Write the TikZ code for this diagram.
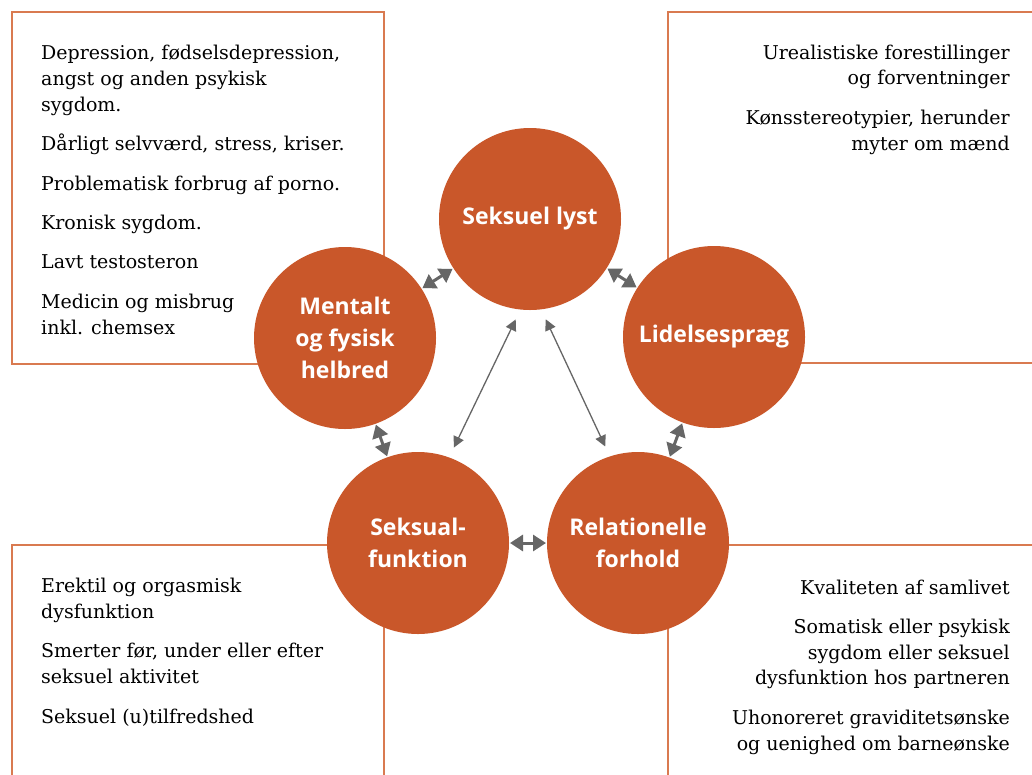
\documentclass[tikz,border=0pt]{standalone}
\usepackage{fontspec}
\setmainfont{DejaVu Serif}
\newfontfamily\circfont{Open Sans}
\usetikzlibrary{arrows.meta}
\definecolor{rust}{HTML}{C9572A}
\definecolor{framec}{HTML}{D97A50}
\definecolor{arrc}{HTML}{666666}
\begin{document}
\begin{tikzpicture}[x=1pt,y=-1pt,
  frameline/.style={draw=framec,line width=1.5pt},
  bubble/.style={circle,fill=rust,minimum size=182pt,inner sep=0pt,outer sep=0pt,
     text=white,align=center,font=\circfont\bfseries\fontsize{23}{32}\selectfont},
  bodytext/.style={inner sep=0pt,font=\fontsize{19}{25.7}\selectfont,text=black},
  shortarr/.style={draw=arrc,line width=3pt,{Triangle[length=13pt,width=16pt]}-{Triangle[length=13pt,width=16pt]},shorten <=1pt,shorten >=1pt},
  longarr/.style={draw=arrc,line width=1.3pt,{Triangle[length=11pt,width=11pt]}-{Triangle[length=11pt,width=11pt]},shorten <=11pt,shorten >=11pt}
]
\useasboundingbox (0,0) rectangle (1032,774);
\fill[white] (0,0) rectangle (1032,774);
% frames
\draw[frameline] (12,12) rectangle (384,364);
\draw[frameline] (1034,12) -- (668,12) -- (668,363) -- (1034,363);
\draw[frameline] (12,776) -- (12,545) -- (384,545) -- (384,776);
\draw[frameline] (1034,545) -- (668,545) -- (668,776);
% texts (anchored at the baseline of the last line)
\node[bodytext,anchor=base west,align=left] (tl) at (41,334)
 {Depression, fødselsdepression,\\angst og anden psykisk\\sygdom.\\[13.7pt]
  Dårligt selvværd, stress, kriser.\\[13.7pt]
  Problematisk forbrug af porno.\\[13.7pt]
  Kronisk sygdom.\\[13.7pt]
  Lavt testosteron\\[13.7pt]
  Medicin og misbrug\\inkl. chemsex};
\node[bodytext,anchor=base east,align=right] (tr) at (1010,150)
 {Urealistiske forestillinger\\og forventninger\\[13.7pt]
  Kønsstereotypier, herunder\\myter om mænd};
\node[bodytext,anchor=base west,align=left] (bl) at (41,723)
 {Erektil og orgasmisk\\dysfunktion\\[13.7pt]
  Smerter før, under eller efter\\seksuel aktivitet\\[13.7pt]
  Seksuel (u)tilfredshed};
\node[bodytext,anchor=base east,align=right] (br) at (1010,750)
 {Kvaliteten af samlivet\\[13.7pt]
  Somatisk eller psykisk\\sygdom eller seksuel\\dysfunktion hos partneren\\[13.7pt]
  Uhonoreret graviditetsønske\\og uenighed om barneønske};
% circles
\node[bubble] (sl) at (530,219) {Seksuel lyst};
\node[bubble] (mf) at (345,338) {Mentalt\\og fysisk\\helbred};
\node[bubble] (lp) at (714,337) {Lidelsespræg};
\node[bubble] (sf) at (418,543) {Seksual-\\funktion};
\node[bubble] (rf) at (638,543) {Relationelle\\forhold};
% arrows
\draw[shortarr] (mf) -- (sl);
\draw[shortarr] (sl) -- (lp);
\draw[shortarr] (mf) -- (sf);
\draw[shortarr] (lp) -- (rf);
\draw[shortarr] (sf) -- (rf);
\draw[longarr] (sl.264) -- (sf.70);
\draw[longarr] (sl.277) -- (rf.108);
\end{tikzpicture}
\end{document}
